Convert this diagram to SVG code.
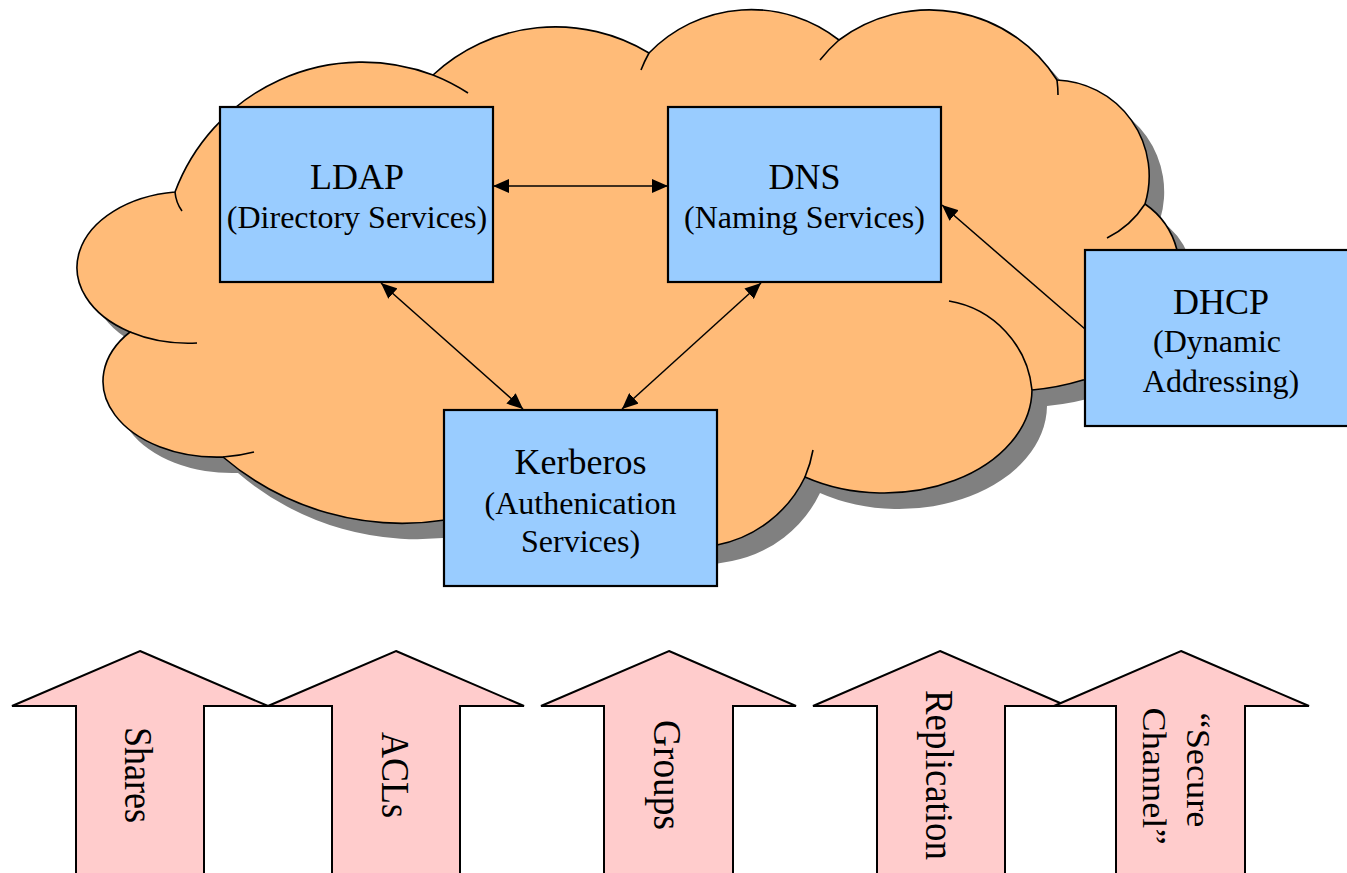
<svg xmlns="http://www.w3.org/2000/svg" width="1347" height="873" viewBox="0 0 1347 873">
  <style>
    .cloud { fill: #FFBB78; stroke: #000; stroke-width: 1.6; }
    .shadow { fill: #808080; stroke: none; }
    .stub { fill: none; stroke: #000; stroke-width: 1.6; }
    .box { fill: #99CCFF; stroke: #000; stroke-width: 2.2; }
    .title { font-family: "Liberation Serif", "Times New Roman", serif; font-size: 36px; text-anchor: middle; fill: #000; }
    .sub { font-family: "Liberation Serif", "Times New Roman", serif; font-size: 32px; text-anchor: middle; fill: #000; }
    .conn { fill: none; stroke: #000; stroke-width: 1.5; }
    .up { fill: #FFCCCC; stroke: #000; stroke-width: 2; }
    .vt { font-family: "Liberation Serif", "Times New Roman", serif; font-size: 40px; text-anchor: middle; fill: #000; }
    .vt2 { font-family: "Liberation Serif", "Times New Roman", serif; font-size: 34px; text-anchor: middle; fill: #000; }
  </style>
  <defs>
    <!-- cloud silhouette; the stretches behind the Kerberos and DHCP boxes are hidden -->
    <path id="cloudShape" d="M175,192 A200,200 0 0 1 433,75 A180,180 0 0 1 649,53 A142,142 0 0 1 839,40 A151,151 0 0 1 1057,80 A96,96 0 0 1 1145,204 A80,80 0 0 1 1177,250 L1205,262 L1205,372 L1083,380 A250,250 0 0 1 1032,390 A148,104 0 0 1 805,477 A124,124 0 0 1 717,545 L700,548 L445,520 A276,276 0 0 1 223,457 A114,76 0 0 1 130,332 A112,76 0 0 1 175,192 Z"/>
    <marker id="ah" viewBox="0 0 16 14" refX="16" refY="7" markerWidth="16" markerHeight="14" markerUnits="userSpaceOnUse" orient="auto-start-reverse">
      <path d="M0,0 L16,7 L0,14 z" fill="#000"/>
    </marker>
  </defs>

  <g id="cloud">
    <use href="#cloudShape" class="shadow" transform="translate(15,16)"/>
    <use href="#cloudShape" class="cloud"/>
    <path class="stub" d="M175,192 Q176,203 182,211"/>
    <path class="stub" d="M433,75 A200,200 0 0 1 468,93"/>
    <path class="stub" d="M641,70 A142,142 0 0 1 649,53"/>
    <path class="stub" d="M820,60 A151,151 0 0 1 839,40"/>
    <path class="stub" d="M1057,80 Q1058,88 1058,95"/>
    <path class="stub" d="M1145,204 A95,95 0 0 1 1107,238"/>
    <path class="stub" d="M949,301 A100,100 0 0 1 1032,390"/>
    <path class="stub" d="M813,450 A124,124 0 0 1 805,477"/>
    <path class="stub" d="M254,452 A114,76 0 0 1 223,457"/>
    <path class="stub" d="M197,343 A112,76 0 0 1 130,332"/>
  </g>

  <g id="ldap">
    <rect class="box" x="220" y="107" width="273" height="175"/>
    <text class="title" x="357" y="189">LDAP</text>
    <text class="sub" x="357" y="228">(Directory Services)</text>
  </g>

  <g id="dns">
    <rect class="box" x="668" y="107" width="273" height="175"/>
    <text class="title" x="804.5" y="189">DNS</text>
    <text class="sub" x="804.5" y="228">(Naming Services)</text>
  </g>

  <g id="kerberos">
    <rect class="box" x="444" y="410" width="273" height="176"/>
    <text class="title" x="580.5" y="474">Kerberos</text>
    <text class="sub" x="580.5" y="514">(Authenication</text>
    <text class="sub" x="580.5" y="552">Services)</text>
  </g>

  <g id="dhcp">
    <rect class="box" x="1085" y="250" width="273" height="176"/>
    <text class="title" x="1221" y="314">DHCP</text>
    <text class="sub" x="1217" y="352">(Dynamic</text>
    <text class="sub" x="1221" y="392">Addressing)</text>
  </g>

  <g id="connectors">
    <line class="conn" x1="493" y1="186" x2="668" y2="186" marker-start="url(#ah)" marker-end="url(#ah)"/>
    <line class="conn" x1="381" y1="283" x2="523" y2="409" marker-start="url(#ah)" marker-end="url(#ah)"/>
    <line class="conn" x1="761" y1="283" x2="622" y2="409" marker-start="url(#ah)" marker-end="url(#ah)"/>
    <line class="conn" x1="1085" y1="329" x2="942" y2="205" marker-end="url(#ah)"/>
  </g>

  <g id="shares">
    <polygon class="up" points="140,651 268,706 204,706 204,880 76,880 76,706 12,706"/>
    <text class="vt" transform="translate(125,775) rotate(90)" textLength="96" lengthAdjust="spacingAndGlyphs">Shares</text>
  </g>
  <g id="acls">
    <polygon class="up" points="396,651 524,706 460,706 460,880 332,880 332,706 268,706"/>
    <text class="vt" transform="translate(382,775) rotate(90)" textLength="86" lengthAdjust="spacingAndGlyphs">ACLs</text>
  </g>
  <g id="groups">
    <polygon class="up" points="669,651 796,706 733,706 733,880 604,880 604,706 541,706"/>
    <text class="vt" transform="translate(654,775) rotate(90)" textLength="110" lengthAdjust="spacingAndGlyphs">Groups</text>
  </g>
  <g id="replication">
    <polygon class="up" points="940,651 1067,706 1005,706 1005,880 877,880 877,706 813,706"/>
    <text class="vt" transform="translate(926,775) rotate(90)" textLength="170" lengthAdjust="spacingAndGlyphs">Replication</text>
  </g>
  <g id="secure-channel">
    <polygon class="up" points="1181,651 1309,706 1245,706 1245,880 1116,880 1116,706 1054,706"/>
    <text class="vt2" transform="translate(1187,770) rotate(90)" textLength="115" lengthAdjust="spacingAndGlyphs">“Secure</text>
    <text class="vt2" transform="translate(1143,776) rotate(90)" textLength="137" lengthAdjust="spacingAndGlyphs">Channel”</text>
  </g>
</svg>
